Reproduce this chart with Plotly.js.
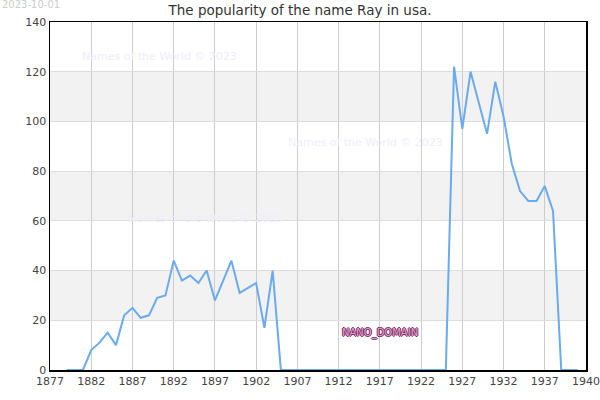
<!DOCTYPE html>
<html>
<head>
<meta charset="utf-8">
<script src="https://cdn.plot.ly/plotly-3.0.1.min.js"></script>
<style>body{margin:0;padding:0;background:#fff}#chart{width:600px;height:400px}</style>
</head>
<body>
<div id="chart"></div>
<script>
const years = [1879,1880,1881,1882,1883,1884,1885,1886,1887,1888,1889,1890,1891,1892,1893,1894,1895,1896,1897,1898,1899,1900,1901,1902,1903,1904,1905,1906,1907,1908,1909,1910,1911,1912,1913,1914,1915,1916,1917,1918,1919,1920,1921,1922,1923,1924,1925,1926,1927,1928,1929,1930,1931,1932,1933,1934,1935,1936,1937,1938,1939,1940,1941];
const values = [0,0,0,8,11,15,10,22,25,21,22,29,30,44,36,38,35,40,28,36,44,31,33,35,17,40,0,0,0,0,0,0,0,0,0,0,0,0,0,0,0,0,0,0,0,0,0,122,97,120,108,95,116,102,83,72,68,68,74,64,0,0,0];
const xTickVals = [1877,1882,1887,1892,1897,1902,1907,1912,1917,1922,1927,1932,1937,1942];
const xTickText = ["1877","1882","1887","1892","1897","1902","1907","1912","1917","1922","1927","1932","1937","1940"];
const yTickVals = [0,20,40,60,80,100,120,140];
const bands = [[20,40],[60,80],[100,120]];
const titleText = "The popularity of the name Ray in usa.";
const dateText = "2023-10-01";
const watermark = "Names of the World © 2023";
const stampText = "NANO_DOMAIN";

const shapes = bands.map(b => ({type:'rect', xref:'paper', yref:'y', x0:0, x1:1, y0:b[0], y1:b[1], fillcolor:'#f2f2f2', line:{width:0}, layer:'below'}));

const wm = [[159,57],[365,142],[205,218]].map(p => ({
  text: watermark, xref:'paper', yref:'paper', showarrow:false,
  x: (p[0]-50)/535.7, y: (370-p[1])/348, xanchor:'center', yanchor:'middle',
  font:{family:'DejaVu Sans', size:11, color:'#eeeefc'}
}));

Plotly.newPlot('chart', [{
  x: years, y: values, type:'scatter', mode:'lines',
  line:{color:'#6aaaee', width:2}, hoverinfo:'skip'
}], {
  width:600, height:400,
  margin:{l:50, r:14, t:22, b:30},
  paper_bgcolor:'#fff', plot_bgcolor:'#fff',
  showlegend:false,
  title:{text:titleText, x:0.5, xanchor:'center', y:0.985, yanchor:'top', font:{family:'DejaVu Sans', size:13.5, color:'#333'}},
  xaxis:{range:[1877,1942], tickmode:'array', tickvals:xTickVals, ticktext:xTickText,
    showgrid:true, gridcolor:'#cccccc', gridwidth:1, zeroline:false,
    showline:true, linecolor:'#000', linewidth:1.5, mirror:true, ticks:'',
    tickfont:{family:'DejaVu Sans', size:11, color:'#444'}},
  yaxis:{range:[0,140], tickmode:'array', tickvals:yTickVals,
    showgrid:true, gridcolor:'#dddddd', gridwidth:1, zeroline:false,
    showline:true, linecolor:'#000', linewidth:1.5, mirror:true, ticks:'',
    tickfont:{family:'DejaVu Sans', size:11, color:'#444'}},
  shapes: shapes,
  annotations: wm.concat([
    {text:dateText, xref:'paper', yref:'paper', x:(0-50)/535.7, y:(370-5)/348, xanchor:'left', yanchor:'middle', showarrow:false,
     font:{family:'DejaVu Sans', size:10, color:'#cccccc'}},
    {text:stampText, xref:'paper', yref:'paper', x:(380-50)/535.7, y:(370-333)/348, xanchor:'center', yanchor:'middle', showarrow:false,
     font:{family:'DejaVu Sans', size:10, color:'#e0a8d0',
       shadow:'1px 0 0 #7a1f5c, -1px 0 0 #7a1f5c, 0 1px 0 #7a1f5c, 0 -1px 0 #7a1f5c'}}
  ])
}, {displayModeBar:false, staticPlot:true});
</script>
</body>
</html>
